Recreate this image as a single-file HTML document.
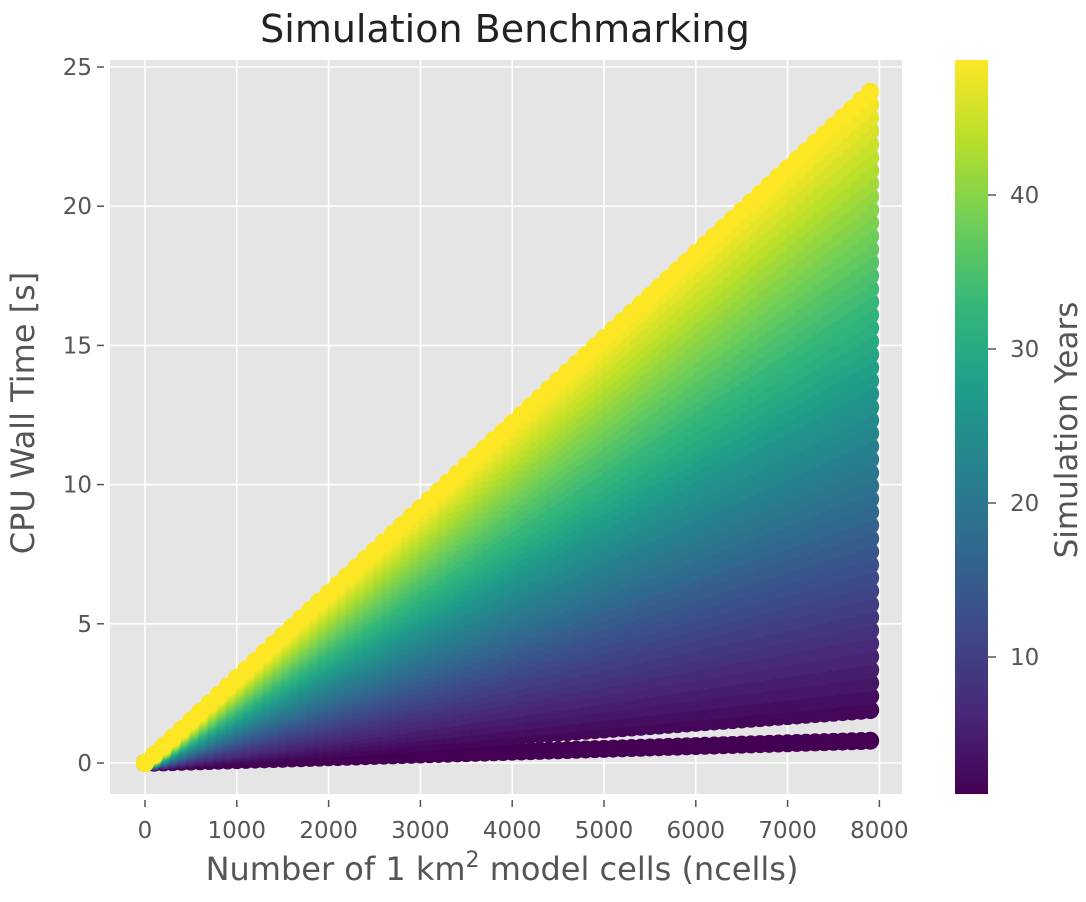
<!DOCTYPE html>
<html><head><meta charset="utf-8"><style>
body{margin:0;background:#fff;}
svg text{font-family:"DejaVu Sans","Liberation Sans",sans-serif;}
</style></head><body>
<svg id="chart" width="1086" height="897" xmlns="http://www.w3.org/2000/svg">
<defs>
<linearGradient id="vir" x1="0" y1="1" x2="0" y2="0">
<stop offset="0" stop-color="#440154"/><stop offset="0.111" stop-color="#482878"/><stop offset="0.222" stop-color="#3e4989"/><stop offset="0.333" stop-color="#31688e"/><stop offset="0.444" stop-color="#26828e"/><stop offset="0.555" stop-color="#1f9e89"/><stop offset="0.666" stop-color="#35b779"/><stop offset="0.777" stop-color="#6ece58"/><stop offset="0.888" stop-color="#b5de2b"/><stop offset="1" stop-color="#fde725"/>
</linearGradient>
<clipPath id="pclip"><rect x="110" y="60" width="792" height="734"/></clipPath>
</defs>
<rect x="110" y="60" width="792" height="734" fill="#e5e5e5"/>
<g id="grid"></g>
<g id="marks" clip-path="url(#pclip)"></g>
<g id="axes"></g>
<text x="505" y="42" font-size="38" text-anchor="middle" fill="#222">Simulation Benchmarking</text>
<text x="502" y="880" font-size="32" text-anchor="middle" fill="#555">Number of 1 km<tspan dy="-13" font-size="22">2</tspan><tspan dy="13"> model cells (ncells)</tspan></text>
<text transform="translate(34,413) rotate(-90)" font-size="32" text-anchor="middle" fill="#555">CPU Wall Time [s]</text>
<rect x="955" y="60" width="33" height="734" fill="url(#vir)"/>
<g id="cbar"></g>
<text transform="translate(1077,430) rotate(-90)" font-size="31" text-anchor="middle" fill="#555">Simulation Years</text>
</svg>
<script>
const ncells=[0,100,200,300,400,500,600,700,800,900,1000,1100,1200,1300,1400,1500,1600,1700,1800,1900,2000,2100,2200,2300,2400,2500,2600,2700,2800,2900,3000,3100,3200,3300,3400,3500,3600,3700,3800,3900,4000,4100,4200,4300,4400,4500,4600,4700,4800,4900,5000,5100,5200,5300,5400,5500,5600,5700,5800,5900,6000,6100,6200,6300,6400,6500,6600,6700,6800,6900,7000,7100,7200,7300,7400,7500,7600,7700,7800,7900];
const years=[1,2,3,4,5,6,7,8,9,10,11,12,13,14,15,16,17,18,19,20,21,22,23,24,25,26,27,28,29,30,31,32,33,34,35,36,37,38,39,40,41,42,43,44,45,46,47,48,49];
const timeAt7900=[0.8,1.9,2.4,2.87,3.34,3.82,4.29,4.76,5.23,5.70,6.18,6.65,7.12,7.59,8.06,8.54,9.01,9.48,9.95,10.42,10.90,11.37,11.84,12.31,12.78,13.26,13.73,14.20,14.67,15.14,15.62,16.09,16.56,17.03,17.50,17.98,18.45,18.92,19.39,19.86,20.34,20.81,21.28,21.75,22.22,22.70,23.17,23.64,24.11];
const xTicks=[0,1000,2000,3000,4000,5000,6000,7000,8000];
const yTicks=[0,5,10,15,20,25];
const cTicks=[10,20,30,40];
const NS="http://www.w3.org/2000/svg";
const X=v=>145+v*0.0918;
const Y=v=>763-v*27.84;
const C=v=>657-(v-10)*15.4;
const cmin=1.17,cmax=48.77;
const vstops=[[68,1,84],[72,40,120],[62,73,137],[49,104,142],[38,130,142],[31,158,137],[53,183,121],[110,206,88],[181,222,43],[253,231,37]];
function vir(t){t=Math.max(0,Math.min(1,t));const p=t*9,i=Math.min(8,Math.floor(p)),f=p-i;const a=vstops[i],b=vstops[i+1];return `rgb(${a.map((c,k)=>Math.round(c+(b[k]-c)*f)).join(',')})`;}
function mk(tag,attrs,parent){const e=document.createElementNS(NS,tag);for(const k in attrs)e.setAttribute(k,attrs[k]);parent.appendChild(e);return e;}
const grid=document.getElementById('grid'),axes=document.getElementById('axes'),marks=document.getElementById('marks'),cbar=document.getElementById('cbar');
xTicks.forEach(v=>{
 const l=mk('line',{x1:X(v),x2:X(v),y1:60,y2:794,stroke:'#fff','stroke-width':1.6},grid);
 
 
 const t=mk('line',{x1:X(v),x2:X(v),y1:800,y2:807,stroke:'#555','stroke-width':1.5},axes);
 
 
 const tx=mk('text',{x:X(v),y:838,'font-size':23,'text-anchor':'middle',fill:'#555'},axes);tx.textContent=v;
 
 
});
yTicks.forEach(v=>{
 const l=mk('line',{x1:110,x2:902,y1:Y(v),y2:Y(v),stroke:'#fff','stroke-width':1.6},grid);
 
 
 const t=mk('line',{x1:97,x2:104,y1:Y(v),y2:Y(v),stroke:'#555','stroke-width':1.5},axes);
 
 
 const tx=mk('text',{x:92,y:Y(v)+8,'font-size':23,'text-anchor':'end',fill:'#555'},axes);tx.textContent=v;
 
 
});
cTicks.forEach(v=>{
 const t=mk('line',{x1:988,x2:996,y1:C(v),y2:C(v),stroke:'#555','stroke-width':1.5},cbar);
 
 
 const tx=mk('text',{x:1010,y:C(v)+8,'font-size':23,fill:'#555'},cbar);tx.textContent=v;
 
 
});
years.forEach((yr,i)=>{
 const col=vir((yr-cmin)/(cmax-cmin));
 ncells.forEach(n=>{
  const c=mk('circle',{cx:X(n),cy:Y(timeAt7900[i]*n/7900),r:9,fill:col},marks);
  
  
 });
});
</script>
</body></html>
